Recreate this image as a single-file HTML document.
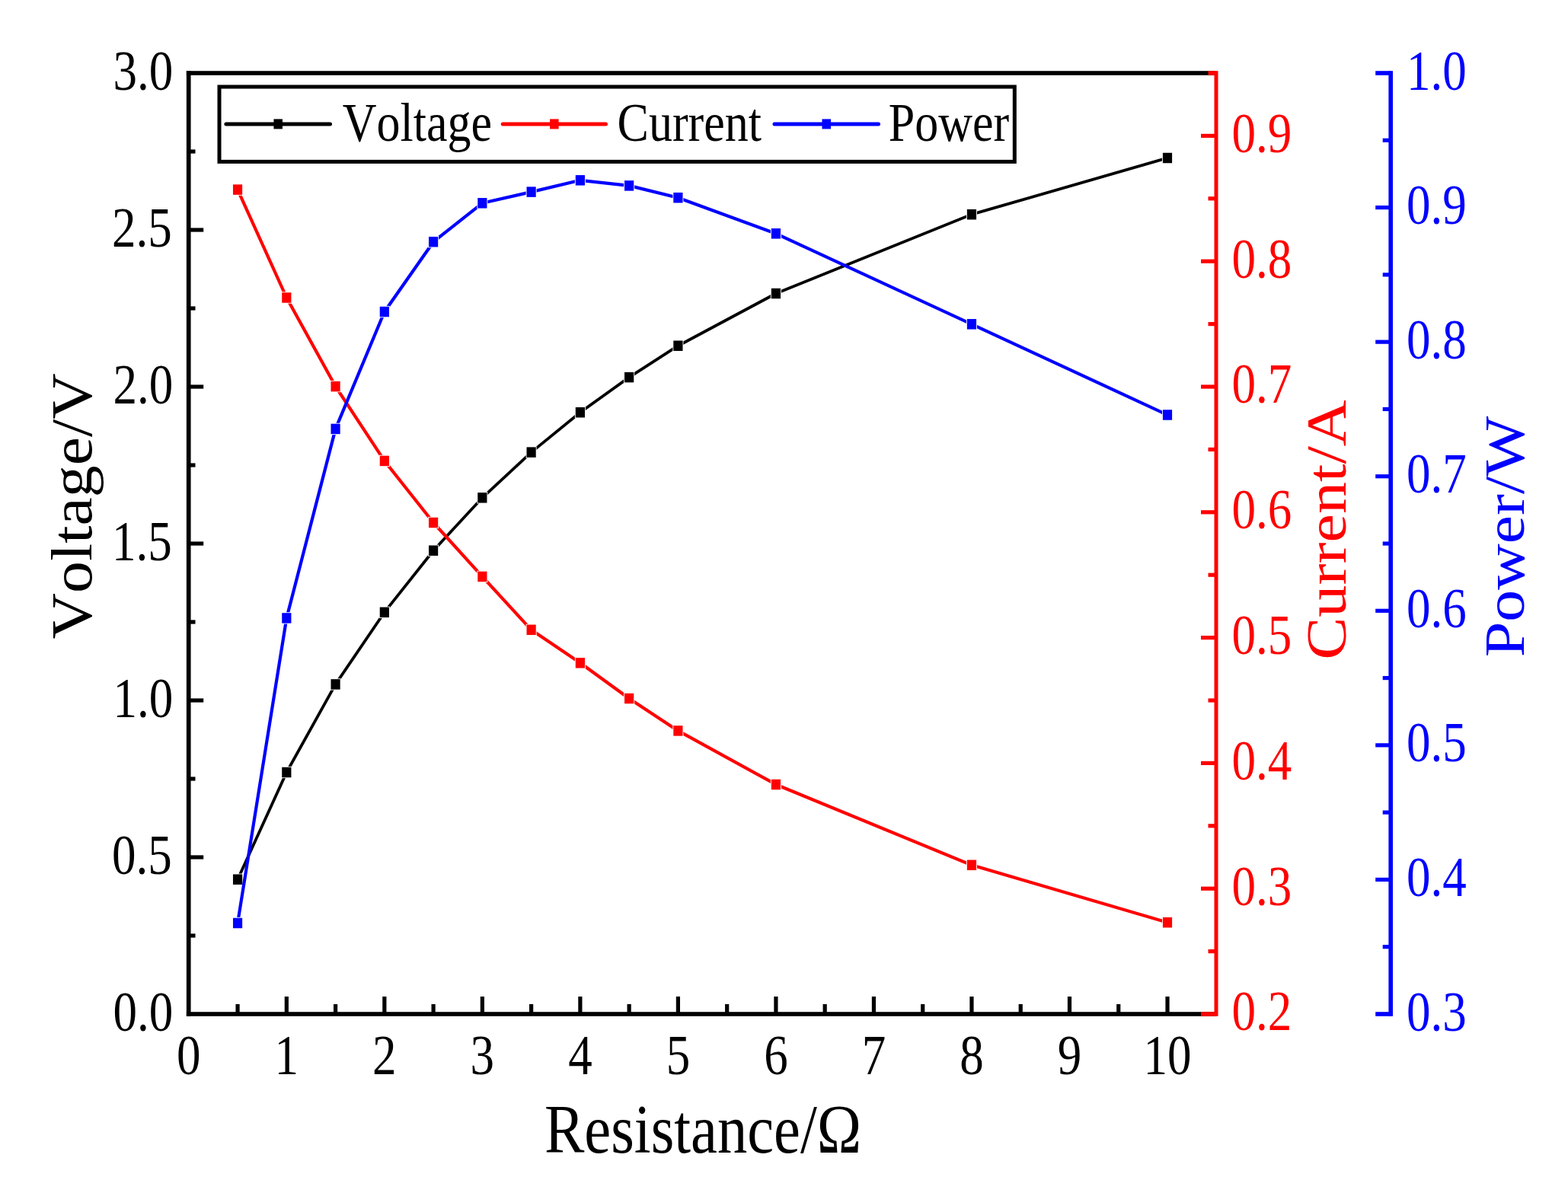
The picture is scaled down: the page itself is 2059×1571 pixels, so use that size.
<!DOCTYPE html>
<html><head><meta charset="utf-8"><title>Voltage, Current and Power vs Resistance</title>
<style>html,body{margin:0;padding:0;background:#fff;overflow:hidden}svg{display:block}text{font-kerning:none;font-feature-settings:"kern" 0}</style></head>
<body><svg width="2059" height="1571" viewBox="0 0 2059 1571" font-family="'Liberation Serif', 'Times New Roman', serif">
<defs><mask id="mV" maskUnits="userSpaceOnUse" x="0" y="0" width="2059" height="1571"><rect width="2059" height="1571" fill="#fff"/><rect x="305.06" y="1147.55" width="14" height="15.3" fill="#000"/><rect x="369.32" y="1006.85" width="14" height="15.3" fill="#000"/><rect x="433.58" y="891.25" width="14" height="15.3" fill="#000"/><rect x="497.84" y="796.65" width="14" height="15.3" fill="#000"/><rect x="562.1" y="715.55" width="14" height="15.3" fill="#000"/><rect x="626.36" y="646.15" width="14" height="15.3" fill="#000"/><rect x="690.62" y="586.45" width="14" height="15.3" fill="#000"/><rect x="754.88" y="534.05" width="14" height="15.3" fill="#000"/><rect x="819.14" y="487.95" width="14" height="15.3" fill="#000"/><rect x="883.4" y="446.55" width="14" height="15.3" fill="#000"/><rect x="1011.92" y="377.85" width="14" height="15.3" fill="#000"/><rect x="1268.96" y="274.05" width="14" height="15.3" fill="#000"/><rect x="1526" y="199.85" width="14" height="15.3" fill="#000"/></mask><mask id="mI" maskUnits="userSpaceOnUse" x="0" y="0" width="2059" height="1571"><rect width="2059" height="1571" fill="#fff"/><rect x="305.06" y="241.45" width="14" height="15.3" fill="#000"/><rect x="369.32" y="383.35" width="14" height="15.3" fill="#000"/><rect x="433.58" y="499.95" width="14" height="15.3" fill="#000"/><rect x="497.84" y="597.75" width="14" height="15.3" fill="#000"/><rect x="562.1" y="678.85" width="14" height="15.3" fill="#000"/><rect x="626.36" y="749.75" width="14" height="15.3" fill="#000"/><rect x="690.62" y="819.65" width="14" height="15.3" fill="#000"/><rect x="754.88" y="863.15" width="14" height="15.3" fill="#000"/><rect x="819.14" y="909.85" width="14" height="15.3" fill="#000"/><rect x="883.4" y="952.25" width="14" height="15.3" fill="#000"/><rect x="1011.92" y="1022.85" width="14" height="15.3" fill="#000"/><rect x="1268.96" y="1128.65" width="14" height="15.3" fill="#000"/><rect x="1526" y="1204.05" width="14" height="15.3" fill="#000"/></mask><mask id="mP" maskUnits="userSpaceOnUse" x="0" y="0" width="2059" height="1571"><rect width="2059" height="1571" fill="#fff"/><rect x="305.06" y="1204.85" width="14" height="15.3" fill="#000"/><rect x="369.32" y="804.25" width="14" height="15.3" fill="#000"/><rect x="433.58" y="555.75" width="14" height="15.3" fill="#000"/><rect x="497.84" y="401.85" width="14" height="15.3" fill="#000"/><rect x="562.1" y="310.05" width="14" height="15.3" fill="#000"/><rect x="626.36" y="259.15" width="14" height="15.3" fill="#000"/><rect x="690.62" y="244.45" width="14" height="15.3" fill="#000"/><rect x="754.88" y="229.15" width="14" height="15.3" fill="#000"/><rect x="819.14" y="236.25" width="14" height="15.3" fill="#000"/><rect x="883.4" y="252.05" width="14" height="15.3" fill="#000"/><rect x="1011.92" y="299.15" width="14" height="15.3" fill="#000"/><rect x="1268.96" y="418.15" width="14" height="15.3" fill="#000"/><rect x="1526" y="537.35" width="14" height="15.3" fill="#000"/></mask></defs>
<rect width="2059" height="1571" fill="#fff"/>
<g><rect x="244.85" y="93.2" width="5.7" height="1241.6" fill="#000"/><rect x="244.85" y="93.2" width="1352.15" height="5.6" fill="#000"/><rect x="244.85" y="1329.2" width="1352.15" height="5.6" fill="#000"/><rect x="309.46" y="1319" width="5.2" height="13" fill="#000"/><rect x="373.72" y="1309" width="5.2" height="23" fill="#000"/><rect x="437.98" y="1319" width="5.2" height="13" fill="#000"/><rect x="502.24" y="1309" width="5.2" height="23" fill="#000"/><rect x="566.5" y="1319" width="5.2" height="13" fill="#000"/><rect x="630.76" y="1309" width="5.2" height="23" fill="#000"/><rect x="695.02" y="1319" width="5.2" height="13" fill="#000"/><rect x="759.28" y="1309" width="5.2" height="23" fill="#000"/><rect x="823.54" y="1319" width="5.2" height="13" fill="#000"/><rect x="887.8" y="1309" width="5.2" height="23" fill="#000"/><rect x="952.06" y="1319" width="5.2" height="13" fill="#000"/><rect x="1016.32" y="1309" width="5.2" height="23" fill="#000"/><rect x="1080.58" y="1319" width="5.2" height="13" fill="#000"/><rect x="1144.84" y="1309" width="5.2" height="23" fill="#000"/><rect x="1209.1" y="1319" width="5.2" height="13" fill="#000"/><rect x="1273.36" y="1309" width="5.2" height="23" fill="#000"/><rect x="1337.62" y="1319" width="5.2" height="13" fill="#000"/><rect x="1401.88" y="1309" width="5.2" height="23" fill="#000"/><rect x="1466.14" y="1319" width="5.2" height="13" fill="#000"/><rect x="1530.4" y="1309" width="5.2" height="23" fill="#000"/><rect x="247.7" y="1226.4" width="8.8" height="5.2" fill="#000"/><rect x="247.7" y="1123.4" width="19.5" height="5.2" fill="#000"/><rect x="247.7" y="1020.4" width="8.8" height="5.2" fill="#000"/><rect x="247.7" y="917.4" width="19.5" height="5.2" fill="#000"/><rect x="247.7" y="814.4" width="8.8" height="5.2" fill="#000"/><rect x="247.7" y="711.4" width="19.5" height="5.2" fill="#000"/><rect x="247.7" y="608.4" width="8.8" height="5.2" fill="#000"/><rect x="247.7" y="505.4" width="19.5" height="5.2" fill="#000"/><rect x="247.7" y="402.4" width="8.8" height="5.2" fill="#000"/><rect x="247.7" y="299.4" width="19.5" height="5.2" fill="#000"/><rect x="247.7" y="196.4" width="8.8" height="5.2" fill="#000"/><rect x="1594.5" y="93.2" width="5" height="1241.6" fill="#ff0000"/><rect x="1577" y="1329.2" width="20" height="5.6" fill="#ff0000"/><rect x="1586.5" y="1247" width="10.5" height="5.2" fill="#ff0000"/><rect x="1577" y="1164.6" width="20" height="5.2" fill="#ff0000"/><rect x="1586.5" y="1082.2" width="10.5" height="5.2" fill="#ff0000"/><rect x="1577" y="999.8" width="20" height="5.2" fill="#ff0000"/><rect x="1586.5" y="917.4" width="10.5" height="5.2" fill="#ff0000"/><rect x="1577" y="835" width="20" height="5.2" fill="#ff0000"/><rect x="1586.5" y="752.6" width="10.5" height="5.2" fill="#ff0000"/><rect x="1577" y="670.2" width="20" height="5.2" fill="#ff0000"/><rect x="1586.5" y="587.8" width="10.5" height="5.2" fill="#ff0000"/><rect x="1577" y="505.4" width="20" height="5.2" fill="#ff0000"/><rect x="1586.5" y="423" width="10.5" height="5.2" fill="#ff0000"/><rect x="1577" y="340.6" width="20" height="5.2" fill="#ff0000"/><rect x="1586.5" y="258.2" width="10.5" height="5.2" fill="#ff0000"/><rect x="1577" y="175.8" width="20" height="5.2" fill="#ff0000"/><rect x="1586.5" y="93.2" width="10.5" height="5.6" fill="#ff0000"/><rect x="1823.4" y="93.2" width="5.6" height="1241.6" fill="#0000ff"/><rect x="1806.2" y="1329.2" width="20" height="5.6" fill="#0000ff"/><rect x="1815.7" y="1241.11" width="10.5" height="5.2" fill="#0000ff"/><rect x="1806.2" y="1152.83" width="20" height="5.2" fill="#0000ff"/><rect x="1815.7" y="1064.54" width="10.5" height="5.2" fill="#0000ff"/><rect x="1806.2" y="976.26" width="20" height="5.2" fill="#0000ff"/><rect x="1815.7" y="887.97" width="10.5" height="5.2" fill="#0000ff"/><rect x="1806.2" y="799.69" width="20" height="5.2" fill="#0000ff"/><rect x="1815.7" y="711.4" width="10.5" height="5.2" fill="#0000ff"/><rect x="1806.2" y="623.11" width="20" height="5.2" fill="#0000ff"/><rect x="1815.7" y="534.83" width="10.5" height="5.2" fill="#0000ff"/><rect x="1806.2" y="446.54" width="20" height="5.2" fill="#0000ff"/><rect x="1815.7" y="358.26" width="10.5" height="5.2" fill="#0000ff"/><rect x="1806.2" y="269.97" width="20" height="5.2" fill="#0000ff"/><rect x="1815.7" y="181.69" width="10.5" height="5.2" fill="#0000ff"/><rect x="1806.2" y="93.2" width="20" height="5.6" fill="#0000ff"/></g>
<g><polyline points="312.06,1155.2 376.32,1014.5 440.58,898.9 504.84,804.3 569.1,723.2 633.36,653.8 697.62,594.1 761.88,541.7 826.14,495.6 890.4,454.2 1018.92,385.5 1275.96,281.7 1533,207.5" fill="none" stroke="#000000" stroke-width="3.8" stroke-linejoin="round" mask="url(#mV)"/><rect x="305.96" y="1148.45" width="12.2" height="13.5" fill="#000000"/><rect x="370.22" y="1007.75" width="12.2" height="13.5" fill="#000000"/><rect x="434.48" y="892.15" width="12.2" height="13.5" fill="#000000"/><rect x="498.74" y="797.55" width="12.2" height="13.5" fill="#000000"/><rect x="563" y="716.45" width="12.2" height="13.5" fill="#000000"/><rect x="627.26" y="647.05" width="12.2" height="13.5" fill="#000000"/><rect x="691.52" y="587.35" width="12.2" height="13.5" fill="#000000"/><rect x="755.78" y="534.95" width="12.2" height="13.5" fill="#000000"/><rect x="820.04" y="488.85" width="12.2" height="13.5" fill="#000000"/><rect x="884.3" y="447.45" width="12.2" height="13.5" fill="#000000"/><rect x="1012.82" y="378.75" width="12.2" height="13.5" fill="#000000"/><rect x="1269.86" y="274.95" width="12.2" height="13.5" fill="#000000"/><rect x="1526.9" y="200.75" width="12.2" height="13.5" fill="#000000"/><polyline points="312.06,249.1 376.32,391 440.58,507.6 504.84,605.4 569.1,686.5 633.36,757.4 697.62,827.3 761.88,870.8 826.14,917.5 890.4,959.9 1018.92,1030.5 1275.96,1136.3 1533,1211.7" fill="none" stroke="#ff0000" stroke-width="4.2" stroke-linejoin="round" mask="url(#mI)"/><rect x="305.96" y="242.35" width="12.2" height="13.5" fill="#ff0000"/><rect x="370.22" y="384.25" width="12.2" height="13.5" fill="#ff0000"/><rect x="434.48" y="500.85" width="12.2" height="13.5" fill="#ff0000"/><rect x="498.74" y="598.65" width="12.2" height="13.5" fill="#ff0000"/><rect x="563" y="679.75" width="12.2" height="13.5" fill="#ff0000"/><rect x="627.26" y="750.65" width="12.2" height="13.5" fill="#ff0000"/><rect x="691.52" y="820.55" width="12.2" height="13.5" fill="#ff0000"/><rect x="755.78" y="864.05" width="12.2" height="13.5" fill="#ff0000"/><rect x="820.04" y="910.75" width="12.2" height="13.5" fill="#ff0000"/><rect x="884.3" y="953.15" width="12.2" height="13.5" fill="#ff0000"/><rect x="1012.82" y="1023.75" width="12.2" height="13.5" fill="#ff0000"/><rect x="1269.86" y="1129.55" width="12.2" height="13.5" fill="#ff0000"/><rect x="1526.9" y="1204.95" width="12.2" height="13.5" fill="#ff0000"/><polyline points="312.06,1212.5 376.32,811.9 440.58,563.4 504.84,409.5 569.1,317.7 633.36,266.8 697.62,252.1 761.88,236.8 826.14,243.9 890.4,259.7 1018.92,306.8 1275.96,425.8 1533,545" fill="none" stroke="#0000ff" stroke-width="4.2" stroke-linejoin="round" mask="url(#mP)"/><rect x="305.96" y="1205.75" width="12.2" height="13.5" fill="#0000ff"/><rect x="370.22" y="805.15" width="12.2" height="13.5" fill="#0000ff"/><rect x="434.48" y="556.65" width="12.2" height="13.5" fill="#0000ff"/><rect x="498.74" y="402.75" width="12.2" height="13.5" fill="#0000ff"/><rect x="563" y="310.95" width="12.2" height="13.5" fill="#0000ff"/><rect x="627.26" y="260.05" width="12.2" height="13.5" fill="#0000ff"/><rect x="691.52" y="245.35" width="12.2" height="13.5" fill="#0000ff"/><rect x="755.78" y="230.05" width="12.2" height="13.5" fill="#0000ff"/><rect x="820.04" y="237.15" width="12.2" height="13.5" fill="#0000ff"/><rect x="884.3" y="252.95" width="12.2" height="13.5" fill="#0000ff"/><rect x="1012.82" y="300.05" width="12.2" height="13.5" fill="#0000ff"/><rect x="1269.86" y="419.05" width="12.2" height="13.5" fill="#0000ff"/><rect x="1526.9" y="538.25" width="12.2" height="13.5" fill="#0000ff"/></g>
<g><rect x="288" y="114" width="1044.3" height="98.4" fill="#fff" stroke="#000" stroke-width="5.0"/><line x1="296.9" y1="162.9" x2="433.5" y2="162.9" stroke="#000000" stroke-width="5.0" stroke-linecap="round"/><rect x="359.45" y="156.4" width="11.5" height="13" fill="#000000"/><text transform="translate(449.8,185.4) scale(0.8564,1)" font-size="72.4" fill="#000">Voltage</text><line x1="660.2" y1="162.9" x2="795.5" y2="162.9" stroke="#ff0000" stroke-width="5.0" stroke-linecap="round"/><rect x="722.1" y="156.4" width="11.5" height="13" fill="#ff0000"/><text transform="translate(810.56,185.4) scale(0.8564,1)" font-size="72.4" fill="#000">Current</text><line x1="1017" y1="162.9" x2="1153.5" y2="162.9" stroke="#0000ff" stroke-width="5.0" stroke-linecap="round"/><rect x="1079.5" y="156.4" width="11.5" height="13" fill="#0000ff"/><text transform="translate(1166.71,185.4) scale(0.8564,1)" font-size="72.4" fill="#000">Power</text></g>
<g><text transform="translate(148.45,1354) scale(0.8514,1)" font-size="74" fill="#000">0.0</text><text transform="translate(147.01,1148) scale(0.8514,1)" font-size="74" fill="#000">0.5</text><text transform="translate(148.45,942) scale(0.8514,1)" font-size="74" fill="#000">1.0</text><text transform="translate(147.01,736) scale(0.8514,1)" font-size="74" fill="#000">1.5</text><text transform="translate(148.45,530) scale(0.8514,1)" font-size="74" fill="#000">2.0</text><text transform="translate(147.01,324) scale(0.8514,1)" font-size="74" fill="#000">2.5</text><text transform="translate(148.45,118) scale(0.8514,1)" font-size="74" fill="#000">3.0</text><text transform="translate(1617.5,1353.3) scale(0.8514,1)" font-size="74" fill="#ff0000">0.2</text><text transform="translate(1617.5,1188.5) scale(0.8514,1)" font-size="74" fill="#ff0000">0.3</text><text transform="translate(1617.5,1023.7) scale(0.8514,1)" font-size="74" fill="#ff0000">0.4</text><text transform="translate(1617.5,858.9) scale(0.8514,1)" font-size="74" fill="#ff0000">0.5</text><text transform="translate(1617.5,694.1) scale(0.8514,1)" font-size="74" fill="#ff0000">0.6</text><text transform="translate(1617.5,529.3) scale(0.8514,1)" font-size="74" fill="#ff0000">0.7</text><text transform="translate(1617.5,364.5) scale(0.8514,1)" font-size="74" fill="#ff0000">0.8</text><text transform="translate(1617.5,199.7) scale(0.8514,1)" font-size="74" fill="#ff0000">0.9</text><text transform="translate(1847,1353.6) scale(0.8514,1)" font-size="74" fill="#0000ff">0.3</text><text transform="translate(1847,1177.03) scale(0.8514,1)" font-size="74" fill="#0000ff">0.4</text><text transform="translate(1847,1000.46) scale(0.8514,1)" font-size="74" fill="#0000ff">0.5</text><text transform="translate(1847,823.89) scale(0.8514,1)" font-size="74" fill="#0000ff">0.6</text><text transform="translate(1847,647.31) scale(0.8514,1)" font-size="74" fill="#0000ff">0.7</text><text transform="translate(1847,470.74) scale(0.8514,1)" font-size="74" fill="#0000ff">0.8</text><text transform="translate(1847,294.17) scale(0.8514,1)" font-size="74" fill="#0000ff">0.9</text><text transform="translate(1847,117.6) scale(0.8514,1)" font-size="74" fill="#0000ff">1.0</text><text transform="translate(232.05,1411) scale(0.8514,1)" font-size="74">0</text><text transform="translate(360.57,1411) scale(0.8514,1)" font-size="74">1</text><text transform="translate(489.09,1411) scale(0.8514,1)" font-size="74">2</text><text transform="translate(617.61,1411) scale(0.8514,1)" font-size="74">3</text><text transform="translate(746.13,1411) scale(0.8514,1)" font-size="74">4</text><text transform="translate(874.65,1411) scale(0.8514,1)" font-size="74">5</text><text transform="translate(1003.17,1411) scale(0.8514,1)" font-size="74">6</text><text transform="translate(1131.69,1411) scale(0.8514,1)" font-size="74">7</text><text transform="translate(1260.21,1411) scale(0.8514,1)" font-size="74">8</text><text transform="translate(1388.73,1411) scale(0.8514,1)" font-size="74">9</text><text transform="translate(1501.5,1411) scale(0.8514,1)" font-size="74">10</text><text transform="translate(714.94,1513.6) scale(0.8562,1)" font-size="91.8" fill="#000">Resistance/Ω</text><text transform="translate(119.9,839.54) rotate(-90) scale(1.1157,1)" font-size="75.2" fill="#000">Voltage/V</text><text transform="translate(1767,866.86) rotate(-90) scale(1.1263,1)" font-size="74.8" fill="#ff0000">Current/A</text><text transform="translate(2001,863.32) rotate(-90) scale(1.1240,1)" font-size="74.6" fill="#0000ff">Power/W</text></g>
</svg></body></html>
